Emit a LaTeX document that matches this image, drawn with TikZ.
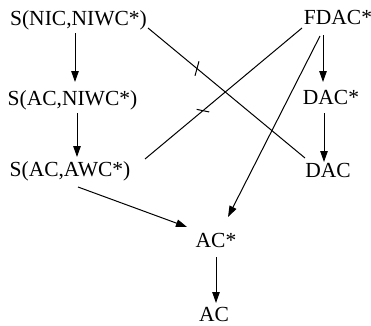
\documentclass[tikz,border=0pt]{standalone}
\usepackage{fontspec}
\setmainfont{Liberation Serif}
\usetikzlibrary{arrows.meta,calc}
\begin{document}
\begin{tikzpicture}[x=1pt,y=1pt,
  lbl/.style={inner sep=0pt,anchor=base,font=\fontsize{21.5}{24}\selectfont,text height=14pt,text depth=4pt},
  arr/.style={line width=1pt,-{Triangle[length=11pt,width=7.5pt]}},
  ln/.style={line width=1pt},
  tick/.style={line width=1pt}]
\useasboundingbox (0,0) rectangle (371,325);
\node[lbl] (n1) at (78.5,300) {S(NIC,NIWC*)};
\node[lbl] (n2) at (72.5,220) {S(AC,NIWC*)};
\node[lbl] (n3) at (70,149) {S(AC,AWC*)};
\node[lbl] (f) at (338,301) {FDAC*};
\node[lbl] (d1) at (331,221) {DAC*};
\node[lbl] (d2) at (328,148) {DAC};
\node[lbl] (a1) at (216,78) {AC*};
\node[lbl] (a2) at (214,4) {AC};
\draw[arr] ($(n1.base)+(-3.5,-8)$) -- ($(n2.base)+(2.5,23)$);
\draw[arr] ($(n2.base)+(4.5,-8)$) -- ($(n3.base)+(7,19)$);
\draw[arr] ($(f.base)+(-15,-11)$) -- ($(d1.base)+(-8,22)$);
\draw[arr] ($(d1.base)+(-7,-9)$) -- ($(d2.base)+(-4,15)$);
\draw[ln] ($(n1.base)+(69.5,-3)$) -- ($(d2.base)+(-23,19)$) coordinate[pos=0.312] (t1);
\draw[ln] ($(n3.base)+(75,17)$) -- ($(f.base)+(-36,-4)$) coordinate[pos=0.369] (t2);
\draw[tick] (t1) +(-2,-7.3) -- +(2,7.3);
\draw[tick] (t2) +(-6.3,1.3) -- +(6.3,-1.3);
\draw[arr] ($(f.base)+(-18,-12)$) -- ($(a1.base)+(12,30)$);
\draw[arr] ($(n3.base)+(8,-11)$) -- ($(a1.base)+(-29,20)$);
\draw[arr] ($(a1.base)+(0,-10)$) -- ($(a2.base)+(2,18)$);
\end{tikzpicture}
\end{document}
